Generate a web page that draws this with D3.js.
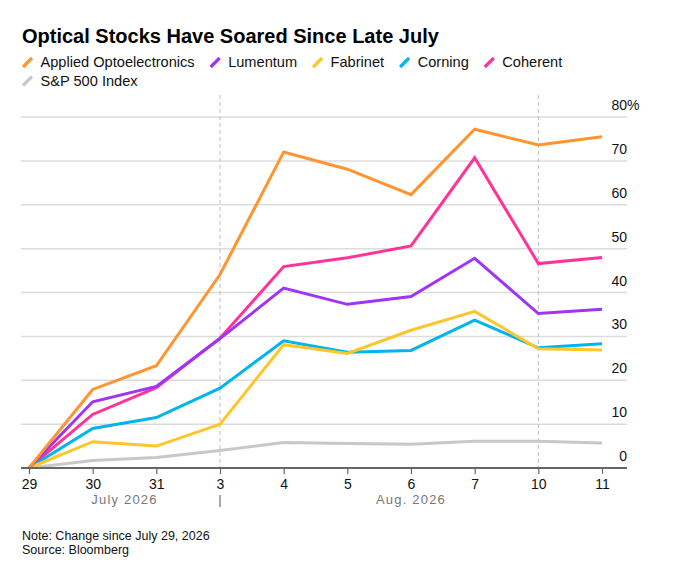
<!DOCTYPE html>
<html lang="en">
<head>
  <meta charset="UTF-8">
  <title>Optical Stocks Have Soared Since Late July</title>
  <style>
    body { margin: 0; background: #fff; }
    svg { display: block; font-family: "Liberation Sans", Arial, sans-serif; }
    .grid line { stroke: #dcdcdc; stroke-width: 1.5px; }
    .divider { stroke: #bdbdbd; stroke-width: 1px; stroke-dasharray: 4, 3; }
    .tick-label { font-size: 14px; fill: #111; }
    .month { font-size: 13px; fill: #777; letter-spacing: 1.2px; text-anchor: middle; }
    .series { fill: none; stroke-width: 3px; stroke-linejoin: miter; }
    .legend text { font-size: 14.6px; fill: #111; }
    .note { font-size: 12.5px; fill: #111; }
  </style>
</head>
<body>
  <svg width="685" height="577"></svg>

  <script src="https://d3js.org/d3.v7.min.js"></script>
  <script>
    // trading days, change since July 29 (%)
    var dates = ["29", "30", "31", "3", "4", "5", "6", "7", "10", "11"];
    var appliedOpto = [0, 17.9, 23.3, 44.1, 72.0, 68.1, 62.3, 77.2, 73.6, 75.5];
    var lumentum    = [0, 15.1, 18.6, 29.5, 41.0, 37.3, 39.1, 47.8, 35.2, 36.2];
    var fabrinet    = [0, 6.0, 5.0, 10.0, 28.1, 26.1, 31.4, 35.7, 27.2, 26.9];
    var corning     = [0, 9.0, 11.5, 18.2, 29.0, 26.4, 26.8, 33.7, 27.4, 28.3];
    var coherent    = [0, 12.2, 18.3, 29.6, 45.9, 47.9, 50.6, 70.7, 46.6, 48.0];
    var sp500       = [0, 1.7, 2.4, 4.0, 5.8, 5.6, 5.4, 6.1, 6.1, 5.7];

    var seriesNames = ["Applied Optoelectronics", "Lumentum", "Fabrinet", "Corning", "Coherent", "S&P 500 Index"];
    var seriesValues = [appliedOpto, lumentum, fabrinet, corning, coherent, sp500];
    var seriesColors = ["#ff9430", "#a034f5", "#ffc62c", "#00b4ee", "#ff3399", "#c8c8c8"];

    var yTicks = [0, 10, 20, 30, 40, 50, 60, 70, 80];
    var months = ["July 2026", "Aug. 2026"];
    var monthStarts = ["29", "3"];
    var dividers = ["3", "10"];

    var svg = d3.select("svg");

    var x = d3.scalePoint().domain(dates).range([29, 602]);
    var y = d3.scaleLinear().domain([0, 80]).range([468, 117]);
    var left = 21, right = 627;

    // title
    svg.append("text")
        .attr("x", 22).attr("y", 43)
        .attr("font-size", "20px").attr("font-weight", "bold")
        .attr("fill", "#000")
        .text("Optical Stocks Have Soared Since Late July");

    // legend, wrapped
    var legend = svg.append("g").attr("class", "legend");
    var lx = 22, ly = 67, maxX = 640;
    seriesNames.forEach(function(name, i) {
      var item = legend.append("g");
      item.append("line")
          .attr("x1", 1).attr("y1", 0).attr("x2", 10).attr("y2", -9)
          .attr("stroke", seriesColors[i]).attr("stroke-width", 3.2);
      var t = item.append("text").attr("x", 18.5).attr("y", 0).text(name);
      var w = 18.5 + t.node().getComputedTextLength();
      if (lx + w > maxX) { lx = 22; ly += 18.5; }
      item.attr("transform", "translate(" + lx + "," + ly + ")");
      lx += w + 15;
    });

    // gridlines
    svg.append("g").attr("class", "grid")
      .selectAll("line")
      .data(yTicks.filter(function(d) { return d > 0; }))
      .enter().append("line")
        .attr("x1", left).attr("x2", right)
        .attr("y1", function(d) { return y(d); })
        .attr("y2", function(d) { return y(d); });

    // y labels
    svg.append("g")
      .selectAll("text")
      .data(yTicks)
      .enter().append("text")
        .attr("class", "tick-label")
        .attr("x", right)
        .attr("y", function(d) { return y(d) - 7; })
        .attr("text-anchor", "end")
        .text(function(d) { return d; });
    svg.append("text")
        .attr("class", "tick-label")
        .attr("x", right).attr("y", y(80) - 7)
        .text("%");

    // dashed period dividers
    svg.append("g")
      .selectAll("line")
      .data(dividers)
      .enter().append("line")
        .attr("class", "divider")
        .attr("x1", function(d) { return x(d); })
        .attr("x2", function(d) { return x(d); })
        .attr("y1", 95).attr("y2", y(0));

    // series, drawn back to front
    var line = d3.line()
        .x(function(d, i) { return x(dates[i]); })
        .y(function(d) { return y(d); });

    d3.range(seriesNames.length).reverse().forEach(function(i) {
      svg.append("path")
          .attr("class", "series")
          .attr("stroke", seriesColors[i])
          .attr("d", line(seriesValues[i]));
    });

    // x axis
    var xAxis = svg.append("g")
        .attr("transform", "translate(0," + y(0) + ")")
        .call(d3.axisBottom(x).tickSize(6).tickPadding(5));
    xAxis.select(".domain").remove();
    xAxis.selectAll(".tick line").attr("stroke", "#666").attr("stroke-width", 1.2);
    xAxis.selectAll(".tick text").attr("class", "tick-label")
        .attr("font-family", null).attr("font-size", null);
    xAxis.insert("line", ":first-child")
        .attr("x1", left).attr("x2", right)
        .attr("y1", 0).attr("y2", 0)
        .attr("stroke", "#666").attr("stroke-width", 2);

    // month labels
    months.forEach(function(m, i) {
      var x0 = x(monthStarts[i]);
      var x1 = i + 1 < months.length ? x(monthStarts[i + 1]) : x(dates[dates.length - 1]);
      svg.append("text")
          .attr("class", "month")
          .attr("x", (x0 + x1) / 2).attr("y", 504)
          .text(m);
      if (i > 0) {
        svg.append("line")
            .attr("x1", x0).attr("x2", x0)
            .attr("y1", 495).attr("y2", 507)
            .attr("stroke", "#555").attr("stroke-width", 1);
      }
    });

    // notes
    svg.append("text").attr("class", "note")
        .attr("x", 22).attr("y", 540)
        .text("Note: Change since July 29, 2026");
    svg.append("text").attr("class", "note")
        .attr("x", 22).attr("y", 554)
        .text("Source: Bloomberg");
  </script>
</body>
</html>
